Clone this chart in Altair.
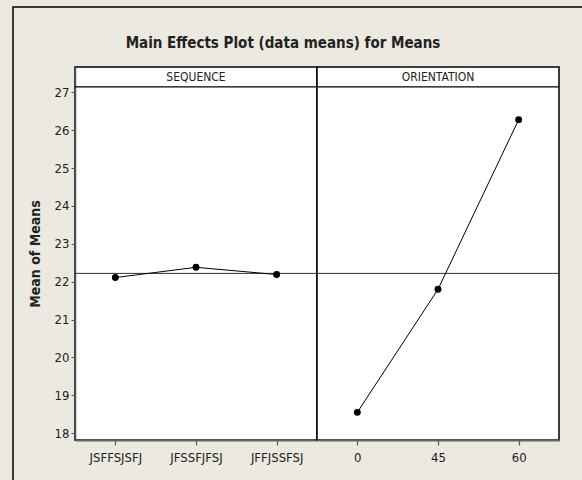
import altair as alt
import pandas as pd

# Factor levels and their data means
sequence_levels = ["JSFFSJSFJ", "JFSSFJFSJ", "JFFJSSFSJ"]
sequence_means = [22.11, 22.38, 22.19]
orientation_levels = ["0", "45", "60"]
orientation_means = [18.55, 21.80, 26.28]
grand_mean = [22.22]
y_ticks = [18, 19, 20, 21, 22, 23, 24, 25, 26, 27]

FONT = "Liberation Sans Narrow, DejaVu Sans Condensed, Arial Narrow, Roboto, sans-serif"
BG = "#ECE9E0"
PANEL_W, PANEL_H = 242, 373
Y_DOMAIN = [17.82, 27.67]      # top part of the range holds the strip header
STRIP_BOTTOM = 27.145


def panel(levels, means, header, first):
    df = pd.DataFrame({"level": levels, "mean": means})
    x = alt.X(
        "level:N",
        sort=levels,
        scale=alt.Scale(type="point", padding=0.5),
        axis=alt.Axis(
            title=None, labelAngle=0, labelFont=FONT, labelFontSize=13,
            labelColor="#222", tickSize=5, tickColor="#555", tickWidth=1.2,
            domainColor="#666", domainWidth=2, labelPadding=6,
        ),
    )
    if first:
        yaxis = alt.Axis(
            values=y_ticks, title="Mean of Means", titleFont=FONT,
            titleFontSize=14, titleFontWeight="bold", titleColor="#222",
            titlePadding=12, labelFont=FONT, labelFontSize=13,
            labelColor="#222", tickSize=4, tickColor="#555",
            domainColor="#555", domainWidth=1.5, grid=False, labelPadding=2,
        )
    else:
        yaxis = None
    yscale = alt.Scale(domain=Y_DOMAIN, nice=False, zero=False)

    base = alt.Chart(df)
    y = alt.Y("mean:Q", scale=yscale, axis=yaxis)
    line = base.mark_line(color="black", strokeWidth=1).encode(x=x, y=y)
    pts = base.mark_point(filled=True, color="black", size=48, opacity=1).encode(x=x, y=y)

    ref = alt.Chart(pd.DataFrame({"mean": grand_mean})).mark_rule(
        color="#333", strokeWidth=1
    ).encode(y=y)

    strip_line = alt.Chart(pd.DataFrame({"mean": [STRIP_BOTTOM]})).mark_rule(
        color="black", strokeWidth=1.2
    ).encode(y=y)

    strip_text = alt.Chart(pd.DataFrame({"h": [header]})).mark_text(
        font=FONT, fontSize=12, color="#222", baseline="middle", align="center"
    ).encode(text="h:N", x=alt.value(PANEL_W / 2), y=alt.value(10))

    layers = [ref, strip_line, strip_text, line, pts]
    if first:
        # outer graph frame (its right and bottom edges fall outside the page)
        frame = alt.Chart(pd.DataFrame({"f": [0]})).mark_rect(
            fillOpacity=0, stroke="black", strokeWidth=1.5
        ).encode(x=alt.value(-62), x2=alt.value(512),
                 y=alt.value(-60), y2=alt.value(430))
        layers = [frame] + layers

    return alt.layer(*layers).properties(width=PANEL_W, height=PANEL_H)


left = panel(sequence_levels, sequence_means, "SEQUENCE", True)
right = panel(orientation_levels, orientation_means, "ORIENTATION", False)

chart = (
    alt.hconcat(left, right, spacing=0, bounds="flush")
    .properties(
        title=alt.TitleParams(
            "Main Effects Plot (data means) for Means",
            font=FONT, fontSize=15, fontWeight="bold", color="#222",
            anchor="middle", offset=-45, dx=-17,
        ),
        autosize=alt.AutoSizeParams(type="none"),
        padding={"left": 75, "top": 67, "right": 507, "bottom": 413},
        background=BG,
    )
    .configure_view(stroke="black", strokeWidth=1.5, fill="white")
)

chart.save("out.html", embed_options={"renderer": "svg", "actions": False})
